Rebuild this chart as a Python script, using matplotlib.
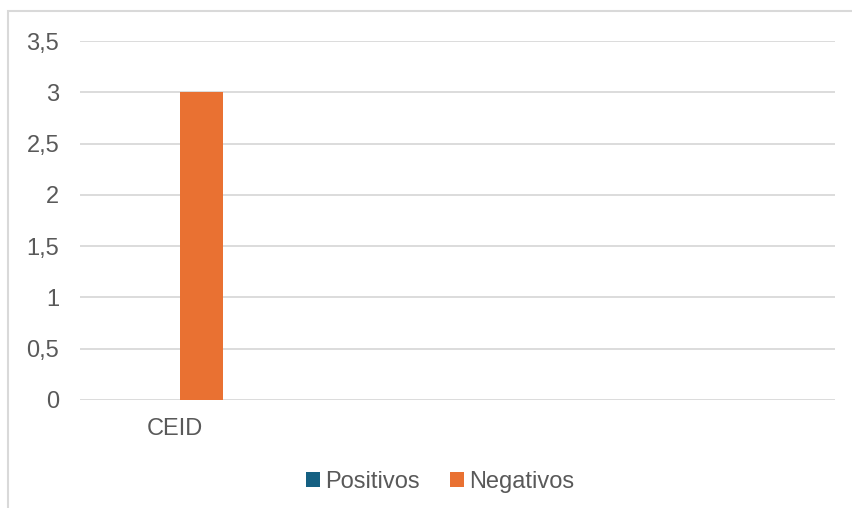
import matplotlib
matplotlib.use('Agg')
import matplotlib.pyplot as plt
from matplotlib.patches import Rectangle
from matplotlib.ticker import FuncFormatter, MultipleLocator

# data
categories = ['CEID']
series_names = ['Positivos', 'Negativos']
positivos = [0]
negativos = [3]
colors = ['#156082', '#E97132']

plt.rcParams['font.family'] = ['Liberation Sans', 'DejaVu Sans']
text_color = '#595959'
grid_color = '#D9D9D9'

fig = plt.figure(figsize=(8.52, 5.08), dpi=100)
W, H = 852, 508

# plot area in pixels: x 80..835, y 41..400
ax = fig.add_axes([80 / W, (H - 400) / H, (835 - 80) / W, (400 - 41) / H])

x = list(range(len(categories)))
bar_w = 0.228
ax.bar([i - 0.084 for i in x], positivos, width=bar_w, color=colors[0],
       label=series_names[0], zorder=3)
ax.bar([i + 0.144 for i in x], negativos, width=bar_w, color=colors[1],
       label=series_names[1], zorder=3)

ax.set_xlim(-0.5, 3.5)
ax.set_ylim(0, 3.5)
ax.yaxis.set_major_locator(MultipleLocator(0.5))
ax.yaxis.set_major_formatter(FuncFormatter(lambda v, p: '{:g}'.format(v).replace('.', ',')))
ax.set_xticks(x)
ax.set_xticklabels(categories)

ax.grid(axis='y', color=grid_color, linewidth=1.3, zorder=0)
for s in ax.spines.values():
    s.set_visible(False)
ax.tick_params(axis='both', length=0, labelsize=17, labelcolor=text_color)
ax.tick_params(axis='y', pad=15)
ax.tick_params(axis='x', pad=13)

# legend below
handles, labels = ax.get_legend_handles_labels()
fig.legend(handles, labels, loc='center', bbox_to_anchor=(440 / W, (H - 482) / H),
           ncol=2, frameon=False, fontsize=17, labelcolor=text_color,
           handlelength=0.6, handleheight=0.6, handletextpad=0.2,
           columnspacing=1.3)

# chart border (runs past the right and bottom edges)
fig.patches.append(Rectangle((8 / W, -0.05), 1.1, (H - 11) / H + 0.05,
                             transform=fig.transFigure, fill=False,
                             edgecolor=grid_color, linewidth=1.5))

fig.savefig('out.png', dpi=100)
